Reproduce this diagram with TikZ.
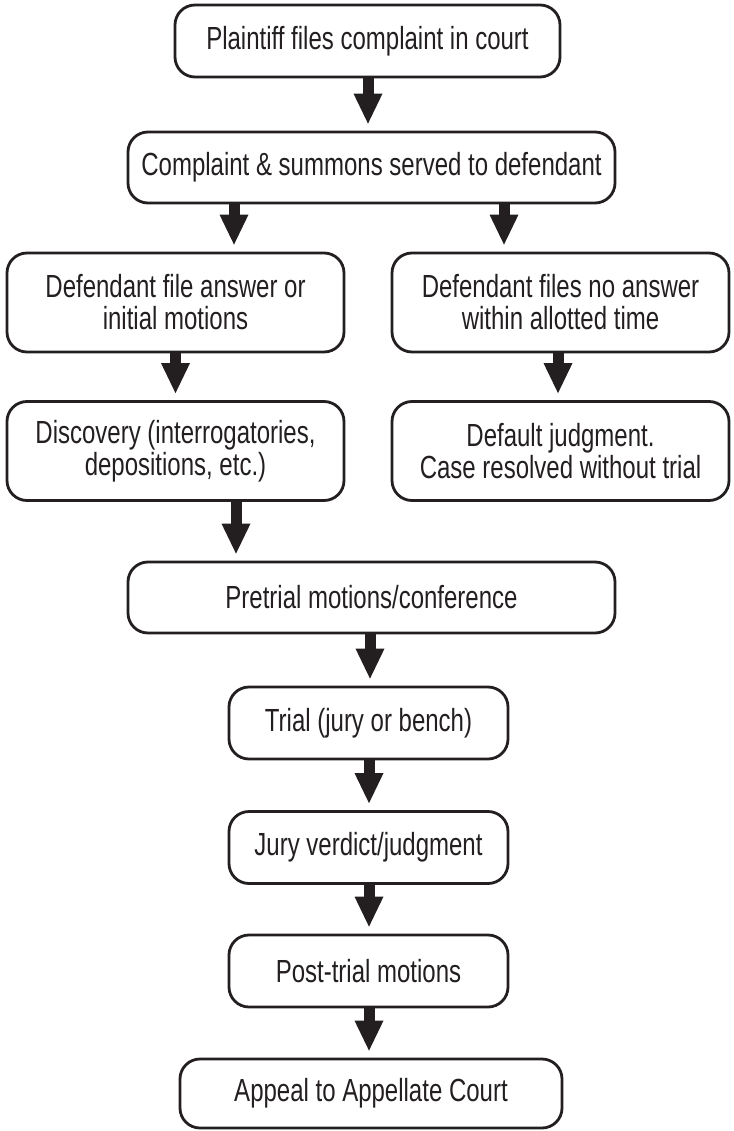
\documentclass[tikz,border=0pt]{standalone}
\usepackage{fontspec}
\setmainfont{Liberation Sans}[FakeStretch=0.75]
\usetikzlibrary{arrows.meta}
\definecolor{ink}{RGB}{35,31,32}
\begin{document}
\begin{tikzpicture}[x=1pt,y=-1pt,
  stage/.style={draw=ink, line width=2.8pt, rounded corners=20pt, inner sep=0pt,
    align=center, text=ink, font=\fontsize{32}{32}\selectfont},
  wide/.style={minimum width=487pt, minimum height=71pt},
  half/.style={minimum width=337pt, minimum height=99pt},
  narrow/.style={minimum width=279pt, minimum height=72pt},
  flow/.style={draw=ink, line width=11pt,
    -{Triangle[width=29pt,length=30pt,line width=0pt]}, shorten >=7pt}
]
\useasboundingbox (0,0) rectangle (733,1131);

% process stages
\node[stage, minimum width=385pt, minimum height=72pt] (b1) at (367.5,41)
  {Plaintiff files complaint in court};
\node[stage, wide] (b2) at (371.5,167.5)
  {Complaint \& summons served to defendant};
\node[stage, half] (b3) at (175.5,302.5)
  {Defendant file answer or\\initial motions};
\node[stage, half] (b4) at (560.5,302.5)
  {Defendant files no answer\\within allotted time};
\node[stage, half] (b5) at (175.5,451)
  {Discovery (interrogatories,\\depositions, etc.)};
\node[stage, half] (b6) at (560.5,451)
  {Default judgment.\\Case resolved without trial};
\node[stage, wide] (b7) at (371.5,597.5)
  {Pretrial motions/conference};
\node[stage, narrow] (b8) at (368.5,723)
  {Trial (jury or bench)};
\node[stage, narrow] (b9) at (368.5,847.5)
  {Jury verdict/judgment};
\node[stage, narrow] (b10) at (368.5,971)
  {Post-trial motions};
\node[stage, minimum width=382pt, minimum height=69pt] (b11) at (371,1093.5)
  {Appeal to Appellate Court};

% connectors
\draw[flow] (b1.south -| 368,0) -- (b2.north -| 368,0);
\draw[flow] (b2.south -| 234,0) -- (b3.north -| 234,0);
\draw[flow] (b2.south -| 504,0) -- (b4.north -| 504,0);
\draw[flow] (b3.south) -- (b5.north);
\draw[flow] (b4.south -| 558,0) -- (b6.north -| 558,0);
\draw[flow] (b5.south -| 236,0) -- (b7.north -| 236,0);
\draw[flow] (b7.south -| 370,0) -- (b8.north -| 370,0);
\draw[flow] (b8.south -| 369,0) -- (b9.north -| 369,0);
\draw[flow] (b9.south -| 369,0) -- (b10.north -| 369,0);
\draw[flow] (b10.south -| 369,0) -- (b11.north -| 369,0);
\end{tikzpicture}
\end{document}
